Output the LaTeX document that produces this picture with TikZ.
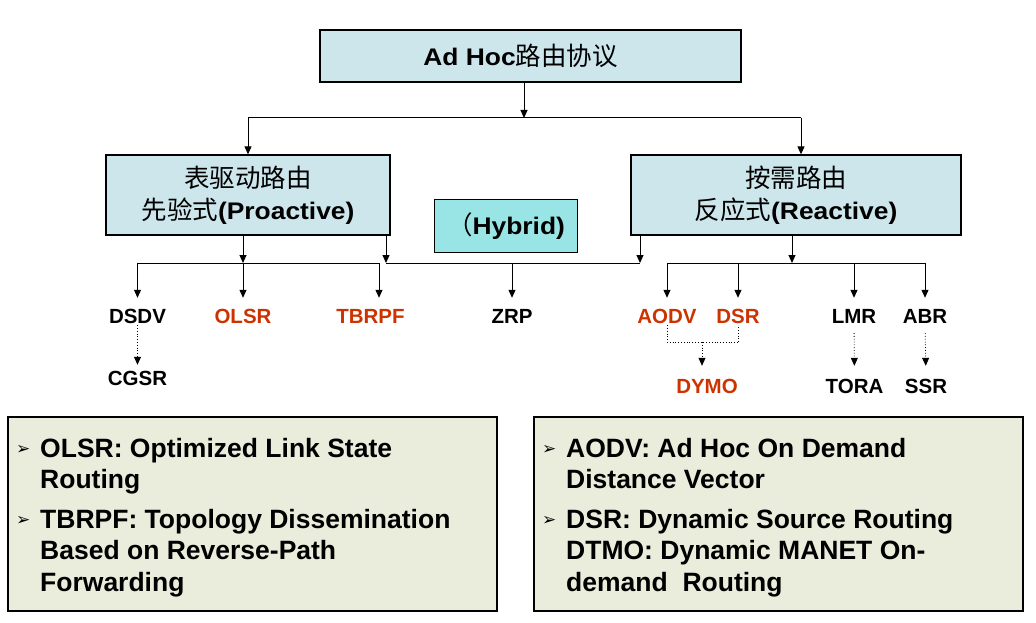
\documentclass[tikz,border=0pt]{standalone}
\usepackage{fontspec}
\usetikzlibrary{arrows.meta,calc}
\setmainfont{Liberation Sans}
\newfontfamily\boxfont{Liberation Sans}[FakeStretch=1.1]
\newfontfamily\cjk{Noto Sans CJK SC}
\newfontfamily\symfont{DejaVu Sans}
\definecolor{boxblue}{RGB}{204,230,236}
\definecolor{hybcyan}{RGB}{153,229,229}
\definecolor{notebg}{RGB}{235,237,220}
\definecolor{labred}{RGB}{204,51,0}
\newcommand{\cn}[1]{{\cjk\mdseries\fontsize{25.5}{32}\selectfont #1}}
\newcommand{\bx}[1]{{\boxfont\bfseries #1}}
\tikzset{
  conn/.style={line width=1pt, draw=black},
  arr/.style={conn, -{Triangle[length=8pt,width=7pt]}},
  dots/.style={line width=0.8pt, dotted},
  darr/.style={dots, -{Triangle[length=8pt,width=7pt]}},
  bluebox/.style={draw, line width=1.3pt, fill=boxblue, align=center, inner sep=0pt,
    font=\fontsize{24}{32}\selectfont},
  hybbox/.style={draw, line width=1.3pt, fill=hybcyan, inner sep=0pt,
    font=\fontsize{24}{28}\selectfont},
  lab/.style={font=\fontsize{20.5}{24}\selectfont\bfseries, text height=14pt, text depth=0pt, inner sep=0pt},
  redlab/.style={lab, text=labred},
  notebox/.style={draw, line width=1.2pt, fill=notebg, inner sep=0pt},
  noteline/.style={anchor=base west, inner sep=0pt, font=\fontsize{26.5}{31}\selectfont\bfseries},
  bul/.style={anchor=base west, inner sep=0pt, font=\symfont\fontsize{17}{19}\selectfont},
}
\begin{document}
\begin{tikzpicture}[x=1pt,y=-1pt]
\useasboundingbox (0,0) rectangle (1036,623);

% boxes
\node[bluebox, minimum width=421pt, minimum height=52pt] (top) at (530.5,56) {\bx{Ad Hoc}\cn{路由协议}\hspace*{20pt}};
\node[bluebox, minimum width=284pt, minimum height=80pt] (lbox) at (248,195) {\cn{表驱动路由}\\\cn{先验式}\bx{(Proactive)}};
\node[bluebox, minimum width=330pt, minimum height=80pt] (rbox) at (796,195) {\cn{按需路由}\\\cn{反应式}\bx{(Reactive)}};
\node[hybbox, minimum width=143pt, minimum height=53pt] (hyb) at (506,226) {\cn{（}\bx{Hybrid)}};

% labels
\node[lab] (dsdv) at (137.5,316) {DSDV};
\node[redlab] (olsr) at (243,316) {OLSR};
\node[redlab] (tbrpf) at (370.5,316) {TBRPF};
\node[lab] (zrp) at (512,316) {ZRP};
\node[redlab] (aodv) at (667,316) {AODV};
\node[redlab] (dsr) at (738,316) {DSR};
\node[lab] (lmr) at (854,316) {LMR};
\node[lab] (abr) at (925,316) {ABR};
\node[lab] (cgsr) at (137.5,378) {CGSR};
\node[redlab] (dymo) at (707,386) {DYMO};
\node[lab] (tora) at (854.5,386) {TORA};
\node[lab] (ssr) at (926,386) {SSR};

% junction coordinates
\coordinate (tj) at (524,118);
\coordinate (tl) at (248,118);
\coordinate (tr) at (801,118);
\coordinate (lj) at (243,263);
\coordinate (tbx) at (379,263);
\coordinate (hj1) at (386,263);
\coordinate (hj2) at (640,263);
\coordinate (rj) at (792,263);
\coordinate (bk) at (702,342);

% top level
\draw[arr] (tj |- top.south) -- (tj);
\draw[conn] (tl) -- (tr);
\draw[arr] (tl) -- (tl |- lbox.north);
\draw[arr] (tr) -- (tr |- rbox.north);

% proactive group
\draw[conn] (dsdv.north |- lj) -- (tbx);
\draw[arr] (lj |- lbox.south) -- (lj);
\draw[arr, shorten >=11pt] (dsdv.north |- lj) -- (dsdv.north);
\draw[arr, shorten >=11pt] (lj) -- (lj |- olsr.north);
\draw[arr, shorten >=11pt] (tbx) -- (tbx |- tbrpf.north);

% hybrid group
\draw[conn] (hj1) -- (hj2);
\draw[arr] (hj1 |- lbox.south) -- (hj1);
\draw[arr] (hj2 |- rbox.south) -- (hj2);
\draw[arr, shorten >=11pt] (zrp.north |- hj1) -- (zrp.north);

% reactive group
\draw[conn] (aodv.north |- rj) -- (abr.north |- rj);
\draw[arr] (rj |- rbox.south) -- (rj);
\draw[arr, shorten >=11pt] (aodv.north |- rj) -- (aodv.north);
\draw[arr, shorten >=11pt] (dsr.north |- rj) -- (dsr.north);
\draw[arr, shorten >=11pt] (lmr.north |- rj) -- (lmr.north);
\draw[arr, shorten >=11pt] (abr.north |- rj) -- (abr.north);

% dotted derivations
\draw[darr, shorten <=2pt, shorten >=6pt] (dsdv.south) -- (cgsr.north);
\draw[dots, shorten <=2pt] (aodv.south) -- (aodv.south |- bk) -- (dsr.south |- bk);
\draw[dots, shorten >=2pt] (dsr.south |- bk) -- (dsr.south);
\draw[darr, shorten >=13pt] (bk) -- (bk |- dymo.north);
\draw[darr, shorten <=10pt, shorten >=13pt] (lmr.south) -- (tora.north);
\draw[darr, shorten <=10pt, shorten >=13pt] (abr.south) -- (ssr.north);

% note boxes
\node[notebox, minimum width=489pt, minimum height=194pt] (lnote) at (252.5,514) {};
\node[notebox, minimum width=489pt, minimum height=194pt] (rnote) at (778.5,514) {};

\node[bul] (lb1) at (16,454) {➢};
\node[noteline] (l1) at (40,457) {OLSR: Optimized Link State};
\node[noteline] (l2) at (40,488.5) {Routing};
\node[bul] (lb2) at (16,525) {➢};
\node[noteline] (l3) at (40,528) {TBRPF: Topology Dissemination};
\node[noteline] (l4) at (40,559.5) {Based on Reverse-Path};
\node[noteline] (l5) at (40,591) {Forwarding};

\node[bul] (rb1) at (542,454) {➢};
\node[noteline] (r1) at (566,457) {AODV: Ad Hoc On Demand};
\node[noteline] (r2) at (566,488.5) {Distance Vector};
\node[bul] (rb2) at (542,525) {➢};
\node[noteline] (r3) at (566,528) {DSR: Dynamic Source Routing};
\node[noteline] (r4) at (566,559.5) {DTMO: Dynamic MANET On-};
\node[noteline] (r5) at (566,591) {demand\ \ Routing};
\end{tikzpicture}
\end{document}
